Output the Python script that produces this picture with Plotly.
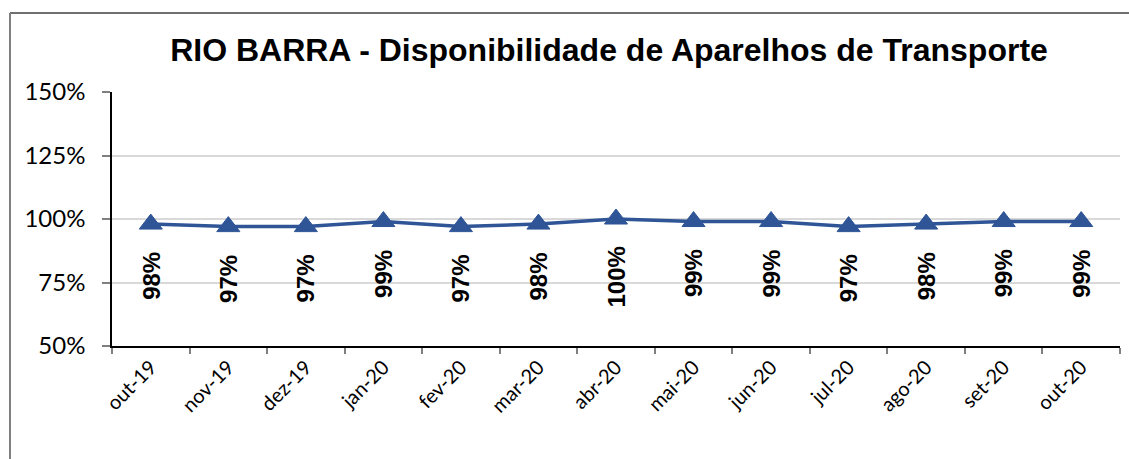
import plotly.graph_objects as go

# Monthly availability of transport equipment (%)
months = ["out-19", "nov-19", "dez-19", "jan-20", "fev-20", "mar-20", "abr-20",
          "mai-20", "jun-20", "jul-20", "ago-20", "set-20", "out-20"]
availability = [98, 97, 97, 99, 97, 98, 100, 99, 99, 97, 98, 99, 99]

y_ticks = [50, 75, 100, 125, 150]

title_text = "RIO BARRA - Disponibilidade de Aparelhos de Transporte"

LINE_BLUE = "#2F5597"
W, H = 1129, 459
M_L, M_R, M_T, M_B = 112, 9, 92, 113

fig = go.Figure()
fig.add_trace(go.Scatter(
    x=months,
    y=availability,
    mode="lines+markers",
    line=dict(color=LINE_BLUE, width=3.5),
    marker=dict(symbol="triangle-up", size=20, color=LINE_BLUE,
                line=dict(color=LINE_BLUE, width=1)),
    hoverinfo="x+y",
))

# Vertical value labels under each point
for m, v in zip(months, availability):
    fig.add_annotation(
        x=m, y=v, xref="x", yref="y",
        text=f"<b>{v}%</b>",
        showarrow=False,
        textangle=-90,
        xanchor="center", yanchor="top",
        yshift=-26,
        font=dict(family="Liberation Sans, Arial, sans-serif", size=24, color="black"),
    )

# Chart frame (top and left edges), positioned in paper units
pw = W - M_L - M_R
ph = H - M_T - M_B
fx0 = (10 - M_L) / pw
fx1 = (W + 5 - M_L) / pw
fy_top = 1 + (M_T - 13) / ph
fy_bot = -(H + 5 - (M_T + ph)) / ph
fig.add_shape(type="line", xref="paper", yref="paper",
              x0=fx0, x1=fx1, y0=fy_top, y1=fy_top,
              line=dict(color="#404040", width=1.5))
fig.add_shape(type="line", xref="paper", yref="paper",
              x0=fx0, x1=fx0, y0=fy_top, y1=fy_bot,
              line=dict(color="#808080", width=2))

fig.update_layout(
    width=W, height=H,
    margin=dict(l=M_L, r=M_R, t=M_T, b=M_B, autoexpand=False),
    paper_bgcolor="white",
    plot_bgcolor="white",
    showlegend=False,
    title=dict(
        text=f"<b>{title_text}</b>",
        x=609 / W, xref="container", xanchor="center",
        y=1 - 50 / H, yref="container", yanchor="middle",
        font=dict(family="Liberation Sans, Arial, sans-serif", size=32, color="black"),
    ),
    xaxis=dict(
        type="category",
        range=[-0.5, len(months) - 0.5],
        tickson="boundaries",
        ticks="outside", ticklen=6, tickcolor="#7f7f7f", tickwidth=1.5,
        showline=True, linecolor="black", linewidth=1.5,
        showgrid=False,
        tickangle=-45,
        tickfont=dict(family="Lato, sans-serif", size=20, color="black"),
    ),
    yaxis=dict(
        range=[50, 150],
        tickvals=y_ticks,
        ticktext=[f"{t}%" for t in y_ticks],
        ticks="outside", ticklen=8, tickcolor="#7f7f7f", tickwidth=1.5,
        ticklabelstandoff=12,
        showline=True, linecolor="black", linewidth=1.5,
        showgrid=True, gridcolor="#D9D9D9", gridwidth=1.5,
        zeroline=False,
        tickfont=dict(family="Lato, sans-serif", size=24, color="black"),
    ),
)

fig.write_html("out.html")
